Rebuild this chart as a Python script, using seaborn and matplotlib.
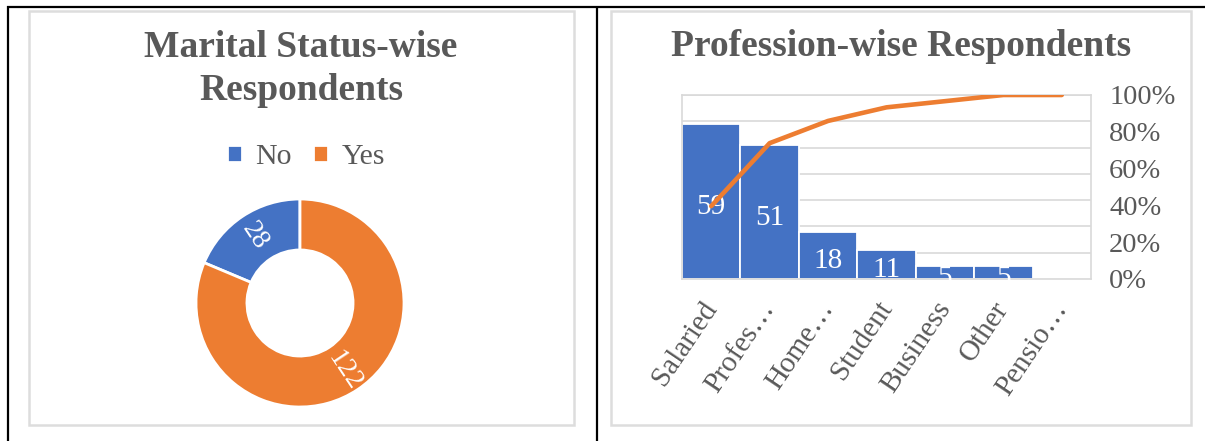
import numpy as np
import matplotlib
matplotlib.use("Agg")
import matplotlib.pyplot as plt
from matplotlib.lines import Line2D
from matplotlib.patches import Rectangle
import seaborn as sns

# ---------------- data ----------------
marital_labels = ["No", "Yes"]
marital_values = [28, 122]

prof_categories = ["Salaried", "Profes…", "Home…", "Student", "Business", "Other", "Pensio…"]
prof_values = [59, 51, 18, 11, 5, 5, 0]
pct_ticks = [0, 0.2, 0.4, 0.6, 0.8, 1.0]
pct_labels = ["0%", "20%", "40%", "60%", "80%", "100%"]

BLUE = "#4472C4"
ORANGE = "#ED7D31"
GRAY_TXT = "#595959"
GRID = "#D9D9D9"
FONT = "Liberation Serif"

sns.set_theme(style="white")
plt.rcParams["font.family"] = [FONT, "DejaVu Serif"]

W, H = 1205, 441
fig = plt.figure(figsize=(W / 100, H / 100), dpi=100)
fig.patch.set_facecolor("white")


def fx(px):
    return px / W


def fy(py):
    return 1 - py / H


def frect(x0, y0, x1, y1):
    return [fx(x0), fy(y1), fx(x1) - fx(x0), fy(y0) - fy(y1)]


# ---------------- table lines and chart frames ----------------
for xs, ys in [((7, W), (7, 7)), ((8, 8), (6, H)), ((597, 597), (6, H))]:
    fig.add_artist(Line2D([fx(x) for x in xs], [fy(y) for y in ys],
                          transform=fig.transFigure, color="black", lw=1.6,
                          solid_capstyle="butt"))
for (x0, y0, x1, y1) in [(29, 11, 574, 425), (611, 11, 1191, 425)]:
    fig.add_artist(Rectangle((fx(x0), fy(y1)), fx(x1) - fx(x0), fy(y0) - fy(y1),
                             transform=fig.transFigure, fill=False,
                             edgecolor="#DDDDDD", lw=1.8))

# ---------------- left: donut ----------------
cx, cy, r = 300, 303, 104
ax1 = fig.add_axes(frect(cx - r, cy - r, cx + r, cy + r))
wedges, _ = ax1.pie(marital_values, colors=[BLUE, ORANGE], startangle=90,
                    counterclock=True, radius=1.0,
                    wedgeprops=dict(width=0.49, edgecolor="white", linewidth=2))
total = sum(marital_values)
start = 90.0
for v in marital_values:
    span = 360.0 * v / total
    mid = start + span / 2
    rad = np.deg2rad(mid)
    rot = mid % 180
    if rot > 90:
        rot -= 180
    ax1.text(0.78 * np.cos(rad), 0.78 * np.sin(rad), str(v), color="white",
             fontsize=20, ha="center", va="center", rotation=rot,
             rotation_mode="anchor")
    start += span
ax1.set_xlim(-1, 1)
ax1.set_ylim(-1, 1)
ax1.set_aspect("equal")
ax1.axis("off")

fig.text(fx(301), fy(69), "Marital Status-wise\nRespondents", ha="center",
         va="center", fontsize=27, fontweight="bold", color=GRAY_TXT,
         linespacing=1.3)
fig.legend(wedges, marital_labels, loc="center", bbox_to_anchor=(fx(306), fy(157)),
           ncol=2, frameon=False, fontsize=21.5, handlelength=0.5, handleheight=0.5,
           handletextpad=0.45, columnspacing=0.7, labelcolor=GRAY_TXT)

# ---------------- right: pareto ----------------
ax = fig.add_axes(frect(682, 95, 1091, 279))
sns.barplot(x=prof_categories, y=prof_values, color=BLUE, width=1.0,
            edgecolor="white", linewidth=1.3, saturation=1, ax=ax, zorder=2)
ax.set_ylim(0, 70)
ax.set_yticks(np.arange(0, 71, 10))
ax.set_yticklabels([])
ax.tick_params(axis="y", length=0, left=False)
ax.yaxis.grid(True, color=GRID, lw=1.2, zorder=0)
ax.set_axisbelow(True)
for s in ax.spines.values():
    s.set_color(GRID)
    s.set_linewidth(1.2)
ax.set_xlim(-0.5, len(prof_categories) - 0.5)
ax.set_xlabel("")
ax.set_ylabel("")
texts = ax.bar_label(ax.containers[0],
                     labels=[str(v) if v > 0 else "" for v in prof_values],
                     label_type="center", color="white", fontsize=21)
for t in texts:
    t.xyann = (0, -4)
ax.tick_params(axis="x", length=0, pad=18)
ax.set_xticks(range(len(prof_categories)))
ax.set_xticklabels(prof_categories, rotation=56, ha="right", va="center",
                   rotation_mode="anchor", fontsize=21, color=GRAY_TXT)

cum = np.cumsum(prof_values) / np.sum(prof_values)
ax2 = ax.twinx()
sns.lineplot(x=np.arange(len(prof_categories)), y=cum, color=ORANGE, lw=3.3,
             ax=ax2, solid_capstyle="round")
ax2.set_ylim(0, 1)
ax2.set_yticks(pct_ticks)
ax2.set_yticklabels(pct_labels, fontsize=20.5, color=GRAY_TXT)
ax2.tick_params(axis="y", length=0, pad=13)
for s in ax2.spines.values():
    s.set_visible(False)
ax2.set_ylabel("")
ax2.grid(False)

fig.text(fx(901), fy(47), "Profession-wise Respondents", ha="center", va="center",
         fontsize=27, fontweight="bold", color=GRAY_TXT)

fig.savefig("out.png", dpi=100, facecolor="white")
